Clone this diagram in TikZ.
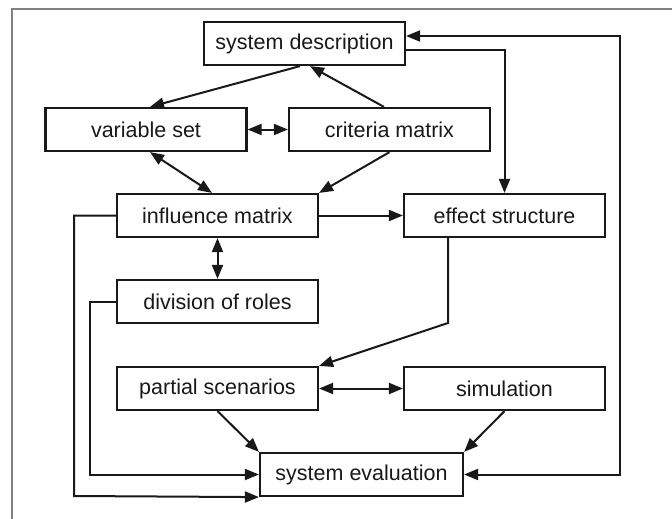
\documentclass[tikz,border=0pt]{standalone}
\usepackage{fontspec}
\setmainfont{Liberation Sans}
\usetikzlibrary{arrows.meta}
\begin{document}
\begin{tikzpicture}[x=1pt,y=-1pt,
  box/.style={draw=black!90, line width=2.2pt, fill=white, minimum width=201pt,
    minimum height=43pt, inner sep=0pt, font=\fontsize{21.5}{24}\selectfont, text=black!90},
  tip/.tip={Triangle[length=14pt,width=11pt]},
  link/.style={line width=2pt, draw=black!90, arrows={-tip}},
  both/.style={link, arrows={tip-tip}}]
\useasboundingbox (0,0) rectangle (672,519);
\fill[white] (0,0) rectangle (672,519);
% outer frame
\draw[gray, line width=2pt] (12,519) -- (12,9) -- (672,9);

% boxes
\node[box] (sd)  at (304.5,43.5)  {system description};
\node[box] (vs)  at (146,129.5)   {variable set};
\node[box] (cm)  at (389.5,129.5) {criteria matrix};
\node[box] (im)  at (217.5,215.5) {influence matrix};
\node[box] (es)  at (504.5,215.5) {effect structure};
\node[box] (dr)  at (217.5,301.5) {division of roles};
\node[box] (ps)  at (217.5,388.5) {partial scenarios};
\node[box] (sim) at (504.5,388.5) {simulation};
\node[box, minimum width=203pt] (se) at (361.5,474.5) {system evaluation};

% bend points of the routed lines
\coordinate (imturn) at (74,496);
\coordinate (drturn) at (90,474.5);
\coordinate (fbtop)  at (620,36);
\coordinate (esturn) at (448,323);

% connectors
\draw[link] ([xshift=-4.5pt]sd.south) -- ([xshift=4pt]vs.north);
\draw[link] ([xshift=-5.5pt]cm.north) -- ([xshift=5.5pt]sd.south);
\draw[both] (vs.east) -- (cm.west);
\draw[both] ([xshift=4pt]vs.south) -- ([xshift=-5.5pt]im.north);
\draw[link] (cm.south) -- (im.north east);
\draw[link] (im.east) -- (es.west);
\draw[link] ([yshift=-6.5pt]sd.east) -| (es.north);
\draw[both] ([yshift=7.5pt]sd.east) -- (fbtop) |- (se.east);
\draw[link] ([xshift=-56.5pt]es.south) -- (esturn) -- (ps.north east);
\draw[both] (im.south) -- (dr.north);
\draw[link] (im.west) -| (imturn) -- (se.south west);
\draw[link] (dr.west) -| (drturn) -- (se.west);
\draw[both] (ps.east) -- (sim.west);
\draw[link] (ps.south) -- (se.north west);
\draw[link] (sim.south) -- (se.north east);
\end{tikzpicture}
\end{document}
